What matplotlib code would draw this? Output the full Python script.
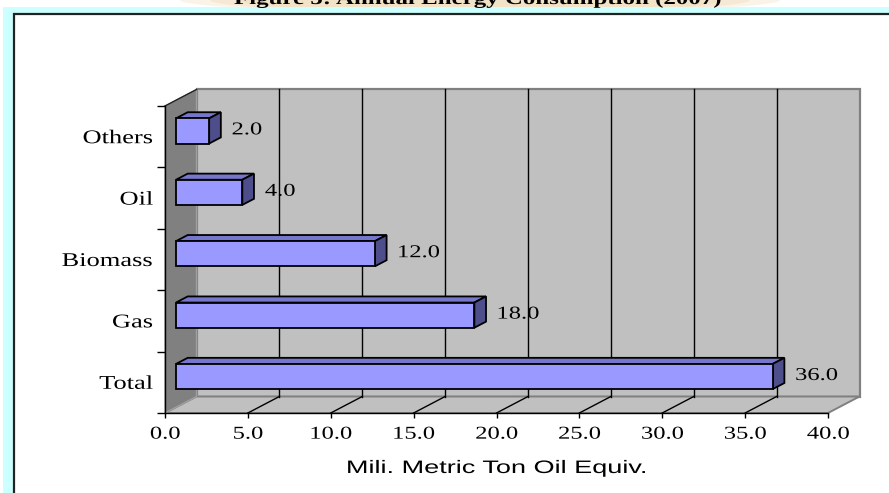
import matplotlib
matplotlib.use("Agg")
import matplotlib.pyplot as plt
from matplotlib.patches import Polygon, Rectangle, Ellipse
from matplotlib.transforms import Affine2D
from matplotlib import patheffects

# ---- data -------------------------------------------------------------
categories = ["Total", "Gas", "Biomass", "Oil", "Others"]
consumption = [36.0, 18.0, 12.0, 4.0, 2.0]
x_ticks = [0, 5, 10, 15, 20, 25, 30, 35, 40]
x_tick_labels = ["0.0", "5.0", "10.0", "15.0", "20.0", "25.0", "30.0", "35.0", "40.0"]
chart_title = "Figure 5: Annual Energy Consumption (2007)"
x_title = "Mili. Metric Ton Oil Equiv."

# ---- figure -----------------------------------------------------------
W, H, DPI = 889, 493, 100
fig = plt.figure(figsize=(W / DPI, H / DPI), dpi=DPI)
fig.patch.set_facecolor("white")

SERIF = "Liberation Serif"
SANS = "Liberation Sans"


class StretchX(patheffects.AbstractPathEffect):
    """Widen glyph outlines horizontally about a chosen anchor."""

    def __init__(self, factor, anchor="center"):
        super().__init__()
        self._factor = factor
        self._anchor = anchor

    def draw_path(self, renderer, gc, tpath, affine, rgbFace=None):
        box = tpath.get_extents(affine)
        if self._anchor == "left":
            x0 = box.x0
        elif self._anchor == "right":
            x0 = box.x1
        else:
            x0 = 0.5 * (box.x0 + box.x1)
        widen = Affine2D().translate(-x0, 0).scale(self._factor, 1).translate(x0, 0)
        renderer.draw_path(gc, tpath, affine + widen, rgbFace)


# page background: soft glow behind the heading, cyan frame, white chart area
for w, a in [(600, 0.35), (540, 0.45), (480, 0.6)]:
    fig.patches.append(Ellipse((480 / W, 1.0), w / W, 26 / H, transform=fig.transFigure,
                               facecolor="#F1DEBF", edgecolor="none", alpha=a, zorder=0))
fig.patches.append(Rectangle((3 / W, -0.1), 1.2, 1.1 - 7 / H, transform=fig.transFigure,
                             facecolor="#CCFFFF", edgecolor="none", zorder=1))
fig.patches.append(Rectangle((14 / W, -0.1), 1.2, 1.1 - 14 / H, transform=fig.transFigure,
                             facecolor="white", edgecolor="#222222", linewidth=1.6, zorder=2))

fig.text(477 / W, 1 - 4 / H, chart_title, ha="center", va="baseline",
         fontsize=13, fontweight="bold", family=SERIF, color="black", zorder=3,
         path_effects=[StretchX(1.38, "center")])

# ---- axes: front plane of the pseudo-3D box ---------------------------
ax = fig.add_axes([165 / W, 80 / H, 663 / W, 307 / H])
ax.set_zorder(3)
ax.patch.set_visible(False)
ax.set_xlim(0, 40)
ax.set_ylim(-0.5, len(categories) - 0.5)
ymin, ymax = -0.5, len(categories) - 0.5

# depth vector expressed in data units
DXu = 31.5 * 40 / 663
DYu = 16.5 * len(categories) / 307


def P(v, c, d):
    return (v + d * DXu, c + d * DYu)


# walls and floor
ax.add_patch(Polygon([P(0, ymin, 1), P(40, ymin, 1), P(40, ymax, 1), P(0, ymax, 1)],
                     closed=True, facecolor="#C0C0C0", edgecolor="#808080",
                     linewidth=1.6, clip_on=False, zorder=0.5))
ax.add_patch(Polygon([P(0, ymin, 0), P(40, ymin, 0), P(40, ymin, 1), P(0, ymin, 1)],
                     closed=True, facecolor="#C0C0C0", edgecolor="#808080",
                     linewidth=1.4, clip_on=False, zorder=0.6))
ax.add_patch(Polygon([P(0, ymin, 0), P(0, ymax, 0), P(0, ymax, 1), P(0, ymin, 1)],
                     closed=True, facecolor="#808080", edgecolor="#A0A0A0",
                     linewidth=1.0, clip_on=False, zorder=0.7))
ax.plot(*zip(P(0, ymax, 0), P(0, ymax, 1)), color="#202020", lw=1.0, clip_on=False, zorder=0.8)

# gridlines on the back wall and depth lines on the floor
for v in x_ticks[1:-1]:
    ax.plot(*zip(P(v, ymin, 1), P(v, ymax, 1)), color="black", lw=1.0,
            clip_on=False, zorder=0.8)
    ax.plot(*zip(P(v, ymin, 0), P(v, ymin, 1)), color="black", lw=1.0,
            clip_on=False, zorder=0.8)

# bars as boxes
hb = 0.205
d0, d1 = 0.35, 0.72
for c, v in enumerate(consumption):
    front = [P(0, c - hb, d0), P(v, c - hb, d0), P(v, c + hb, d0), P(0, c + hb, d0)]
    top = [P(0, c + hb, d0), P(v, c + hb, d0), P(v, c + hb, d1), P(0, c + hb, d1)]
    side = [P(v, c - hb, d0), P(v, c - hb, d1), P(v, c + hb, d1), P(v, c + hb, d0)]
    for pts, fc in [(top, "#7676CC"), (side, "#4E4E8C"), (front, "#9999FF")]:
        ax.add_patch(Polygon(pts, closed=True, facecolor=fc, edgecolor="black",
                             linewidth=1.3, joinstyle="miter", clip_on=False, zorder=2))
    lx, ly = P(v, c, 0.5 * (d0 + d1))
    ax.text(v + d1 * DXu + 11 * 40 / 663, ly, f"{v:.1f}", ha="left", va="center_baseline",
            fontsize=13, family=SERIF, color="black", zorder=4, clip_on=False,
            path_effects=[StretchX(1.36, "left")])

# axes decorations
for s in ["top", "right"]:
    ax.spines[s].set_visible(False)
for s in ["left", "bottom"]:
    ax.spines[s].set_color("black")
    ax.spines[s].set_linewidth(1.0)

ax.set_xticks(x_ticks)
ax.set_xticklabels(x_tick_labels, family=SERIF, fontsize=13)
ax.tick_params(axis="x", direction="out", length=3.6, width=1.0, pad=5.5, colors="black")

ax.set_yticks([i - 0.5 for i in range(len(categories) + 1)])
ax.set_yticklabels([])
ax.set_yticks(range(len(categories)), minor=True)
ax.set_yticklabels(categories, minor=True, family=SERIF, fontsize=14)
ax.tick_params(axis="y", which="major", direction="out", length=5.8, width=1.0, colors="black")
ax.tick_params(axis="y", which="minor", length=0, pad=8.6, colors="black")

ax.set_xlabel(x_title, family=SANS, fontsize=13, labelpad=12.5, color="black")
ax.xaxis.label.set_path_effects([StretchX(1.5, "center")])

fig.canvas.draw()
for lbl in ax.get_xticklabels():
    lbl.set_path_effects([StretchX(1.36, "center")])
for lbl in ax.get_yticklabels(minor=True):
    lbl.set_path_effects([StretchX(1.36, "right")])

fig.savefig("out.png", dpi=DPI)
